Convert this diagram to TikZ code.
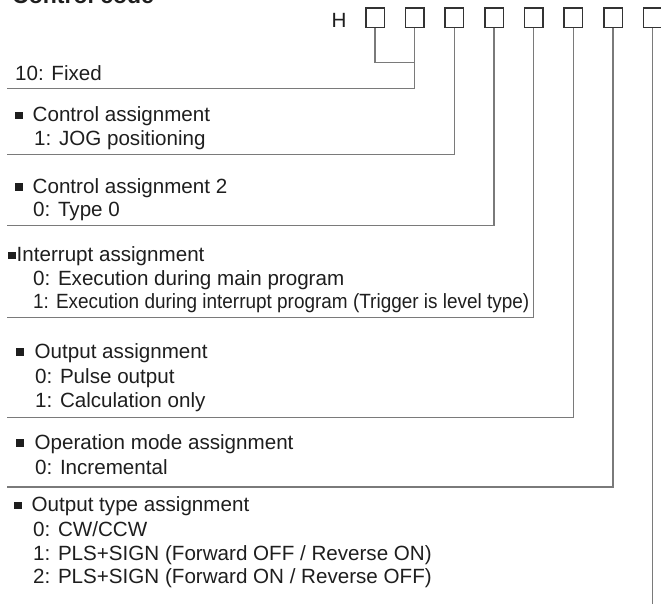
\documentclass[tikz,border=0pt]{standalone}
\usepackage{fontspec}
\setmainfont{Liberation Sans}
\definecolor{inkDark}{HTML}{1E1E1E}
\definecolor{boxEdge}{HTML}{333333}
\definecolor{leadGrey}{HTML}{7A7A7A}
\newcommand{\bsq}{\rule[2.4pt]{7.5pt}{7.5pt}}

\begin{document}
\begin{tikzpicture}[
    x=1pt, y=-1pt,
    txt/.style={anchor=base west, inner sep=0pt, text=inkDark, font=\fontsize{20.6}{24}\selectfont},
    digit/.style={rectangle, draw=boxEdge, line width=1.5pt, minimum width=18.5pt, minimum height=19.5pt, inner sep=0pt},
    lead/.style={draw=leadGrey, line width=1.5pt}
]
\useasboundingbox (0,0) rectangle (661,603);

% Title (cut at the top edge)
\node[txt, font=\fontsize{23}{26}\selectfont\bfseries] (title) at (12,3) {Control code};

% Code digits
\node[txt, anchor=base] (hch) at (339,27.3) {H};
\foreach \i in {1,...,8}
    \node[digit] (d\i) at ({375+39.67*(\i-1)},17.8) {};

% Line ends
\coordinate (j1) at (0,62.3);
\coordinate (e1) at (7,88.7);
\coordinate (e2) at (7,154.5);
\coordinate (e3) at (7,225.7);
\coordinate (e4) at (7,317.5);
\coordinate (e5) at (7,417.3);
\coordinate (e6) at (7,486.8);
\coordinate (e7) at (0,605);

% Fixed
\node[txt] (fixed) at (15,80) {10: Fixed};

% Control assignment
\node[txt] (ctlA) at (15,121.7) {\bsq\hspace{10pt}Control assignment};
\node[txt] (ctlAone) at (34,145) {1: JOG positioning};

% Control assignment 2
\node[txt] (ctlB) at (15,193.3) {\bsq\hspace{10pt}Control assignment 2};
\node[txt] (ctlBzero) at (33,216.7) {0: Type 0};

% Interrupt assignment
\node[txt] (intr) at (8,261.7) {\bsq\hspace{1pt}Interrupt assignment};
\node[txt] (intrZero) at (33,285) {0: Execution during main program};
\node[txt] (intrOne) at (33,308.3) {\scalebox{0.92}[1]{1: Execution during interrupt program (Trigger is level type)}};

% Output assignment
\node[txt] (outA) at (16,358.3) {\bsq\hspace{11pt}Output assignment};
\node[txt] (outAzero) at (35,383) {0: Pulse output};
\node[txt] (outAone) at (35,407.7) {1: Calculation only};

% Operation mode assignment
\node[txt] (opMode) at (16,449) {\bsq\hspace{11pt}Operation mode assignment};
\node[txt] (opModeZero) at (35,474) {0: Incremental};

% Output type assignment
\node[txt] (outT) at (14,511.7) {\bsq\hspace{10pt}Output type assignment};
\node[txt] (outTzero) at (33,536.7) {0: CW/CCW};
\node[txt] (outTone) at (33,560) {1: PLS+SIGN (Forward OFF / Reverse ON)};
\node[txt] (outTtwo) at (33,583.3) {2: PLS+SIGN (Forward ON / Reverse OFF)};

% Leads
\draw[lead] (d1.south) |- (d2.south |- j1);
\draw[lead] (d2.south) |- (e1);
\draw[lead] (d3.south) |- (e2);
\draw[lead] (d4.south) |- (e3);
\draw[lead] (d5.south) |- (e4);
\draw[lead] (d6.south) |- (e5);
\draw[lead] (d7.south) |- (e6);
\draw[lead] (d8.south) -- (d8.south |- e7);

\end{tikzpicture}
\end{document}
